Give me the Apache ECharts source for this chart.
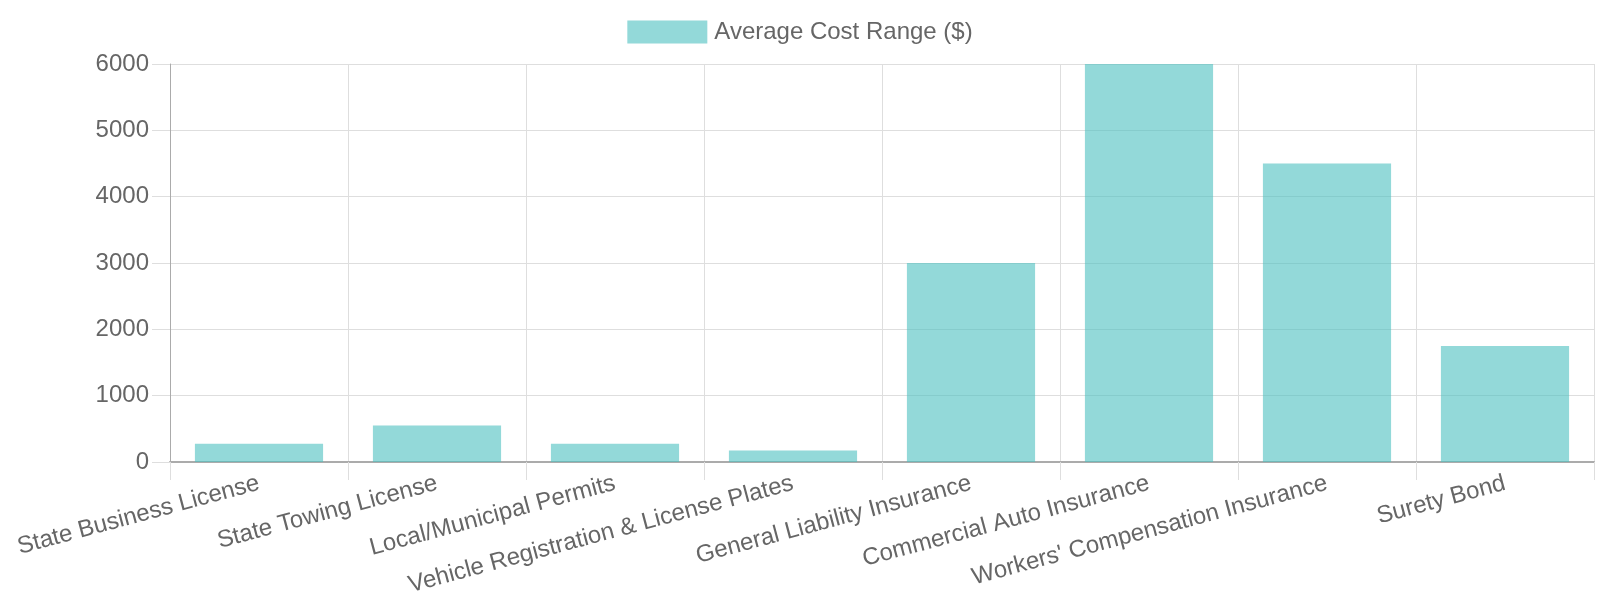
<!DOCTYPE html>
<html>
<head>
<meta charset="utf-8">
<script src="https://cdn.jsdelivr.net/npm/echarts@6/dist/echarts.min.js"></script>
<style>
  html, body { margin: 0; padding: 0; background: #fff; }
  #chart { width: 1600px; height: 600px; }
</style>
</head>
<body>
<div id="chart"></div>
<script>
const categories = [
  'State Business License',
  'State Towing License',
  'Local/Municipal Permits',
  'Vehicle Registration & License Plates',
  'General Liability Insurance',
  'Commercial Auto Insurance',
  "Workers' Compensation Insurance",
  'Surety Bond',
]
const averageCost = [275, 550, 275, 175, 3000, 6000, 4500, 1750]
const seriesName = 'Average Cost Range ($)'

const font = '"Liberation Sans", Arial, sans-serif'
const textColor = '#666'
const gridColor = '#dedede'
const axisColor = '#ababab'

const chart = echarts.init(document.getElementById('chart'))

const option = {
  animation: false,
  textStyle: { fontFamily: font },
  legend: {
    data: [seriesName],
    top: 15,
    left: 'center',
    icon: 'rect',
    itemWidth: 80,
    itemHeight: 23,
    itemGap: 12,
    textStyle: { color: textColor, fontSize: 24, fontFamily: font, padding: [0, 0, 0, 2] },
  },
  grid: {
    left: 170,
    right: 6,
    top: 64,
    bottom: 138,
    containLabel: false,
  },
  xAxis: {
    type: 'category',
    data: categories,
    boundaryGap: true,
    axisLine: { show: true, lineStyle: { color: axisColor, width: 2 } },
    axisTick: { show: true, length: 18, lineStyle: { color: gridColor } },
    splitLine: { show: true, lineStyle: { color: gridColor } },
    axisLabel: {
      interval: 0,
      rotate: 15,
      margin: 21,
      color: textColor,
      fontSize: 24,
      fontFamily: font,
    },
  },
  yAxis: {
    type: 'value',
    min: 0,
    max: 6000,
    interval: 1000,
    axisLine: { show: true, lineStyle: { color: axisColor } },
    axisTick: { show: true, length: 18, lineStyle: { color: gridColor } },
    splitLine: { show: true, lineStyle: { color: gridColor } },
    axisLabel: {
      margin: 21,
      color: textColor,
      fontSize: 24,
      fontFamily: font,
      formatter: (value) => String(value),
    },
  },
  series: [
    {
      name: seriesName,
      type: 'bar',
      data: averageCost,
      barCategoryGap: '28%',
      itemStyle: {
        color: 'rgba(75, 192, 192, 0.6)',
      },
    },
  ],
}

chart.setOption(option)
</script>
</body>
</html>
